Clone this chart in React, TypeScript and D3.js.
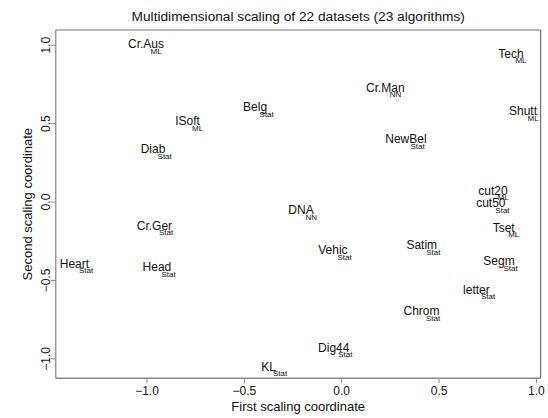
import React from "react";
import * as d3 from "d3";

const names = ["Cr.Aus", "Belg", "ISoft", "Diab", "Tech", "Cr.Man", "Shutt", "NewBel", "cut20", "cut50", "Tset", "DNA", "Cr.Ger", "Heart", "Head", "KL", "Dig44", "Vehic", "Satim", "Segm", "letter", "Chrom"];
const groups = ["ML", "Stat", "ML", "Stat", "ML", "NN", "ML", "Stat", "ML", "Stat", "ML", "NN", "Stat", "Stat", "Stat", "Stat", "Stat", "Stat", "Stat", "Stat", "Stat", "Stat"];
const xValues = [-1.005, -0.445, -0.792, -0.969, 0.869, 0.224, 0.931, 0.330, 0.777, 0.766, 0.832, -0.209, -0.962, -1.373, -0.949, -0.376, -0.041, -0.045, 0.411, 0.808, 0.692, 0.410];
const yValues = [1.007, 0.606, 0.517, 0.338, 0.948, 0.730, 0.580, 0.402, 0.075, -0.006, -0.163, -0.051, -0.150, -0.391, -0.413, -1.047, -0.928, -0.306, -0.274, -0.375, -0.559, -0.694];
const xTicks = [-1.0, -0.5, 0.0, 0.5, 1.0];
const yTicks = [-1.0, -0.5, 0.0, 0.5, 1.0];
const titleText = "Multidimensional scaling of 22 datasets (23 algorithms)";
const xTitle = "First scaling coordinate";
const yTitle = "Second scaling coordinate";

const W = 548, H = 418;
const L = 55.7, R = 540.7, T = 30, B = 378.3;
const font = "'Liberation Sans', Arial, Helvetica, sans-serif";

export default function App() {
  const x = d3.scaleLinear().domain([-1.469, 1.022]).range([L, R]);
  const y = d3.scaleLinear().domain([-1.124, 1.097]).range([B, T]);
  const fmt = d3.format(".1f");
  return (
    <svg width={W} height={H} style={{ position: "absolute", left: 0, top: 0, background: "#fff" }} fontFamily={font}>
      <rect x={0} y={0} width={W} height={H} fill="#fff" />
      {/* frame */}
      <line x1={L} y1={T} x2={R} y2={T} stroke="#777" strokeWidth={1} />
      <line x1={R} y1={T} x2={R} y2={B} stroke="#555" strokeWidth={1} />
      <line x1={L} y1={T} x2={L} y2={B} stroke="#999" strokeWidth={1.5} />
      <line x1={L} y1={B} x2={R} y2={B} stroke="#888" strokeWidth={1.5} />
      {/* x ticks */}
      {xTicks.map((t) => (
        <g key={"x" + t}>
          <line x1={x(t)} x2={x(t)} y1={B} y2={B + 5} stroke="#888" strokeWidth={1} />
          <text x={x(t)} y={395} fontSize={12} textAnchor="middle" fill="#111">{fmt(t)}</text>
        </g>
      ))}
      {/* y ticks */}
      {yTicks.map((t) => (
        <g key={"y" + t}>
          <line x1={L - 5} x2={L} y1={y(t)} y2={y(t)} stroke="#888" strokeWidth={1} />
          <text transform={`translate(50,${y(t)}) rotate(-90)`} fontSize={12} textAnchor="middle" fill="#111">{fmt(t)}</text>
        </g>
      ))}
      <text x={(L + R) / 2} y={20.5} fontSize={13.7} textAnchor="middle" fill="#111">{titleText}</text>
      <text x={(L + R) / 2} y={410.5} fontSize={13} textAnchor="middle" fill="#111">{xTitle}</text>
      <text transform={`translate(32,${(T + B) / 2}) rotate(-90)`} fontSize={13} textAnchor="middle" fill="#111">{yTitle}</text>
      {names.map((n, i) => (
        <g key={n}>
          <text x={x(xValues[i])} y={y(yValues[i]) + 4.3} fontSize={12} textAnchor="middle" fill="#111">{n}</text>
          <text x={x(xValues[i]) + 4.5} y={y(yValues[i]) + 9.8} fontSize={8} textAnchor="start" fill="#111">{groups[i]}</text>
        </g>
      ))}
    </svg>
  );
}
